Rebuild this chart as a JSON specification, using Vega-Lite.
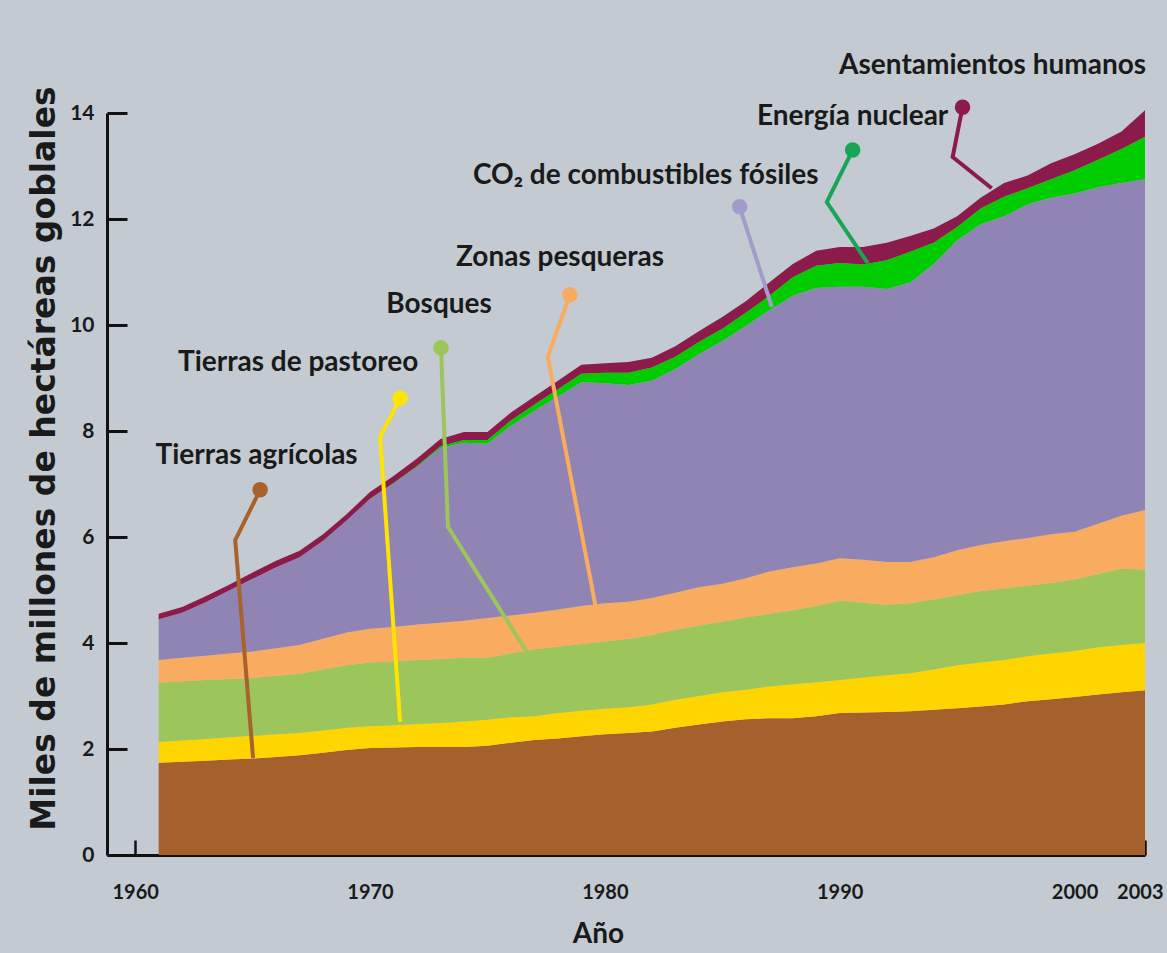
{
  "$schema": "https://vega.github.io/schema/vega-lite/v6.json",
  "width": 1038,
  "height": 742,
  "autosize": "none",
  "padding": {"left": 107, "top": 113, "right": 22, "bottom": 98},
  "background": "#c3cad2",
  "config": {"view": {"stroke": null}},
  "datasets": {
    "huella": [
      {"anio":1961,"a_agricolas":1.74,"b_pastoreo":0.39,"c_bosques":1.12,"d_pesqueras":0.43,"e_co2":0.77,"f_nuclear":0.0,"g_asentamientos":0.10},
      {"anio":1962,"a_agricolas":1.76,"b_pastoreo":0.40,"c_bosques":1.12,"d_pesqueras":0.44,"e_co2":0.85,"f_nuclear":0.0,"g_asentamientos":0.11},
      {"anio":1963,"a_agricolas":1.78,"b_pastoreo":0.41,"c_bosques":1.11,"d_pesqueras":0.46,"e_co2":1.01,"f_nuclear":0.0,"g_asentamientos":0.11},
      {"anio":1964,"a_agricolas":1.80,"b_pastoreo":0.42,"c_bosques":1.10,"d_pesqueras":0.48,"e_co2":1.19,"f_nuclear":0.0,"g_asentamientos":0.11},
      {"anio":1965,"a_agricolas":1.82,"b_pastoreo":0.43,"c_bosques":1.09,"d_pesqueras":0.50,"e_co2":1.37,"f_nuclear":0.0,"g_asentamientos":0.12},
      {"anio":1966,"a_agricolas":1.85,"b_pastoreo":0.43,"c_bosques":1.10,"d_pesqueras":0.52,"e_co2":1.53,"f_nuclear":0.0,"g_asentamientos":0.12},
      {"anio":1967,"a_agricolas":1.88,"b_pastoreo":0.42,"c_bosques":1.12,"d_pesqueras":0.54,"e_co2":1.66,"f_nuclear":0.0,"g_asentamientos":0.12},
      {"anio":1968,"a_agricolas":1.93,"b_pastoreo":0.42,"c_bosques":1.15,"d_pesqueras":0.58,"e_co2":1.85,"f_nuclear":0.0,"g_asentamientos":0.12},
      {"anio":1969,"a_agricolas":1.98,"b_pastoreo":0.42,"c_bosques":1.18,"d_pesqueras":0.62,"e_co2":2.11,"f_nuclear":0.0,"g_asentamientos":0.12},
      {"anio":1970,"a_agricolas":2.02,"b_pastoreo":0.41,"c_bosques":1.20,"d_pesqueras":0.64,"e_co2":2.45,"f_nuclear":0.0,"g_asentamientos":0.13},
      {"anio":1971,"a_agricolas":2.03,"b_pastoreo":0.42,"c_bosques":1.20,"d_pesqueras":0.65,"e_co2":2.71,"f_nuclear":0.01,"g_asentamientos":0.13},
      {"anio":1972,"a_agricolas":2.04,"b_pastoreo":0.43,"c_bosques":1.21,"d_pesqueras":0.67,"e_co2":2.97,"f_nuclear":0.02,"g_asentamientos":0.14},
      {"anio":1973,"a_agricolas":2.04,"b_pastoreo":0.45,"c_bosques":1.21,"d_pesqueras":0.68,"e_co2":3.30,"f_nuclear":0.03,"g_asentamientos":0.14},
      {"anio":1974,"a_agricolas":2.04,"b_pastoreo":0.48,"c_bosques":1.20,"d_pesqueras":0.70,"e_co2":3.36,"f_nuclear":0.05,"g_asentamientos":0.15},
      {"anio":1975,"a_agricolas":2.06,"b_pastoreo":0.49,"c_bosques":1.17,"d_pesqueras":0.75,"e_co2":3.29,"f_nuclear":0.07,"g_asentamientos":0.15},
      {"anio":1976,"a_agricolas":2.12,"b_pastoreo":0.48,"c_bosques":1.20,"d_pesqueras":0.72,"e_co2":3.58,"f_nuclear":0.10,"g_asentamientos":0.15},
      {"anio":1977,"a_agricolas":2.17,"b_pastoreo":0.45,"c_bosques":1.26,"d_pesqueras":0.69,"e_co2":3.81,"f_nuclear":0.12,"g_asentamientos":0.15},
      {"anio":1978,"a_agricolas":2.20,"b_pastoreo":0.48,"c_bosques":1.25,"d_pesqueras":0.70,"e_co2":4.02,"f_nuclear":0.14,"g_asentamientos":0.16},
      {"anio":1979,"a_agricolas":2.24,"b_pastoreo":0.48,"c_bosques":1.26,"d_pesqueras":0.72,"e_co2":4.22,"f_nuclear":0.16,"g_asentamientos":0.17},
      {"anio":1980,"a_agricolas":2.28,"b_pastoreo":0.48,"c_bosques":1.27,"d_pesqueras":0.72,"e_co2":4.15,"f_nuclear":0.20,"g_asentamientos":0.18},
      {"anio":1981,"a_agricolas":2.30,"b_pastoreo":0.49,"c_bosques":1.29,"d_pesqueras":0.70,"e_co2":4.09,"f_nuclear":0.23,"g_asentamientos":0.20},
      {"anio":1982,"a_agricolas":2.33,"b_pastoreo":0.51,"c_bosques":1.31,"d_pesqueras":0.70,"e_co2":4.10,"f_nuclear":0.25,"g_asentamientos":0.18},
      {"anio":1983,"a_agricolas":2.40,"b_pastoreo":0.53,"c_bosques":1.32,"d_pesqueras":0.70,"e_co2":4.22,"f_nuclear":0.23,"g_asentamientos":0.20},
      {"anio":1984,"a_agricolas":2.46,"b_pastoreo":0.54,"c_bosques":1.33,"d_pesqueras":0.72,"e_co2":4.40,"f_nuclear":0.23,"g_asentamientos":0.20},
      {"anio":1985,"a_agricolas":2.52,"b_pastoreo":0.55,"c_bosques":1.33,"d_pesqueras":0.72,"e_co2":4.58,"f_nuclear":0.23,"g_asentamientos":0.22},
      {"anio":1986,"a_agricolas":2.56,"b_pastoreo":0.56,"c_bosques":1.36,"d_pesqueras":0.74,"e_co2":4.76,"f_nuclear":0.25,"g_asentamientos":0.22},
      {"anio":1987,"a_agricolas":2.58,"b_pastoreo":0.60,"c_bosques":1.37,"d_pesqueras":0.80,"e_co2":4.93,"f_nuclear":0.27,"g_asentamientos":0.25},
      {"anio":1988,"a_agricolas":2.58,"b_pastoreo":0.64,"c_bosques":1.40,"d_pesqueras":0.81,"e_co2":5.12,"f_nuclear":0.35,"g_asentamientos":0.25},
      {"anio":1989,"a_agricolas":2.62,"b_pastoreo":0.64,"c_bosques":1.44,"d_pesqueras":0.80,"e_co2":5.20,"f_nuclear":0.42,"g_asentamientos":0.28},
      {"anio":1990,"a_agricolas":2.68,"b_pastoreo":0.62,"c_bosques":1.50,"d_pesqueras":0.80,"e_co2":5.12,"f_nuclear":0.45,"g_asentamientos":0.30},
      {"anio":1991,"a_agricolas":2.69,"b_pastoreo":0.66,"c_bosques":1.41,"d_pesqueras":0.81,"e_co2":5.15,"f_nuclear":0.42,"g_asentamientos":0.33},
      {"anio":1992,"a_agricolas":2.70,"b_pastoreo":0.69,"c_bosques":1.33,"d_pesqueras":0.81,"e_co2":5.15,"f_nuclear":0.54,"g_asentamientos":0.33},
      {"anio":1993,"a_agricolas":2.71,"b_pastoreo":0.72,"c_bosques":1.32,"d_pesqueras":0.78,"e_co2":5.27,"f_nuclear":0.58,"g_asentamientos":0.30},
      {"anio":1994,"a_agricolas":2.74,"b_pastoreo":0.76,"c_bosques":1.32,"d_pesqueras":0.80,"e_co2":5.53,"f_nuclear":0.40,"g_asentamientos":0.27},
      {"anio":1995,"a_agricolas":2.77,"b_pastoreo":0.81,"c_bosques":1.32,"d_pesqueras":0.85,"e_co2":5.85,"f_nuclear":0.25,"g_asentamientos":0.20},
      {"anio":1996,"a_agricolas":2.80,"b_pastoreo":0.83,"c_bosques":1.35,"d_pesqueras":0.87,"e_co2":6.05,"f_nuclear":0.30,"g_asentamientos":0.20},
      {"anio":1997,"a_agricolas":2.84,"b_pastoreo":0.84,"c_bosques":1.35,"d_pesqueras":0.89,"e_co2":6.13,"f_nuclear":0.37,"g_asentamientos":0.26},
      {"anio":1998,"a_agricolas":2.90,"b_pastoreo":0.85,"c_bosques":1.33,"d_pesqueras":0.90,"e_co2":6.30,"f_nuclear":0.30,"g_asentamientos":0.24},
      {"anio":1999,"a_agricolas":2.94,"b_pastoreo":0.86,"c_bosques":1.33,"d_pesqueras":0.92,"e_co2":6.35,"f_nuclear":0.35,"g_asentamientos":0.30},
      {"anio":2000,"a_agricolas":2.98,"b_pastoreo":0.87,"c_bosques":1.35,"d_pesqueras":0.90,"e_co2":6.38,"f_nuclear":0.44,"g_asentamientos":0.30},
      {"anio":2001,"a_agricolas":3.03,"b_pastoreo":0.89,"c_bosques":1.38,"d_pesqueras":0.95,"e_co2":6.35,"f_nuclear":0.52,"g_asentamientos":0.30},
      {"anio":2002,"a_agricolas":3.07,"b_pastoreo":0.89,"c_bosques":1.44,"d_pesqueras":1.00,"e_co2":6.28,"f_nuclear":0.64,"g_asentamientos":0.33},
      {"anio":2003,"a_agricolas":3.11,"b_pastoreo":0.89,"c_bosques":1.38,"d_pesqueras":1.13,"e_co2":6.24,"f_nuclear":0.80,"g_asentamientos":0.50}
    ],
    "lineas": [
      {"serie":"a_agricolas","i":1,"anio":1965.32,"valor":6.89},
      {"serie":"a_agricolas","i":2,"anio":1964.26,"valor":5.94},
      {"serie":"a_agricolas","i":3,"anio":1965.02,"valor":1.83},
      {"serie":"b_pastoreo","i":1,"anio":1971.28,"valor":8.62},
      {"serie":"b_pastoreo","i":2,"anio":1970.43,"valor":7.89},
      {"serie":"b_pastoreo","i":3,"anio":1971.28,"valor":2.51},
      {"serie":"c_bosques","i":1,"anio":1973.02,"valor":9.57},
      {"serie":"c_bosques","i":2,"anio":1973.32,"valor":6.19},
      {"serie":"c_bosques","i":3,"anio":1976.68,"valor":3.83},
      {"serie":"d_pesqueras","i":1,"anio":1978.51,"valor":10.57},
      {"serie":"d_pesqueras","i":2,"anio":1977.57,"valor":9.40},
      {"serie":"d_pesqueras","i":3,"anio":1979.62,"valor":4.66},
      {"serie":"e_co2","i":1,"anio":1985.74,"valor":12.23},
      {"serie":"e_co2","i":2,"anio":1987.11,"valor":10.34},
      {"serie":"f_nuclear","i":1,"anio":1990.55,"valor":13.30},
      {"serie":"f_nuclear","i":2,"anio":1989.45,"valor":12.32},
      {"serie":"f_nuclear","i":3,"anio":1991.19,"valor":11.17},
      {"serie":"g_asentamientos","i":1,"anio":1995.23,"valor":14.11},
      {"serie":"g_asentamientos","i":2,"anio":1994.81,"valor":13.17},
      {"serie":"g_asentamientos","i":3,"anio":1996.47,"valor":12.58}
    ],
    "etiquetas": [
      {"texto":"Tierras agrícolas","anio":1965.17,"valor":7.38},
      {"texto":"Tierras de pastoreo","anio":1966.94,"valor":9.13},
      {"texto":"Bosques","anio":1972.94,"valor":10.23},
      {"texto":"Zonas pesqueras","anio":1978.09,"valor":11.11},
      {"texto":"CO₂ de combustibles fósiles","anio":1981.74,"valor":12.66},
      {"texto":"Energía nuclear","anio":1990.55,"valor":13.77},
      {"texto":"Asentamientos humanos","anio":1996.51,"valor":14.74}
    ]
  },
  "encoding": {
    "x": {
      "field": "anio", "type": "quantitative",
      "scale": {"domain": [1958.8, 2003], "nice": false, "zero": false},
      "axis": {
        "title": "Año", "values": [1960, 1970, 1980, 1990, 2000, 2003], "format": "d",
        "grid": false, "domainColor": "#111111", "domainWidth": 3,
        "tickColor": "#111111", "tickWidth": 2.5, "tickSize": -15,
        "labelFont": "Lato", "labelFontSize": 20, "labelFontWeight": "bold",
        "labelColor": "#1a1a1a", "labelPadding": 42, "labelFlush": 4, "labelFlushOffset": 18, "labelOverlap": false,
        "titleFont": "Lato", "titleFontSize": 28, "titleFontWeight": "bold",
        "titleColor": "#1a1a1a", "titlePadding": 18, "titleX": 491
      }
    },
    "y": {
      "field": "valor", "type": "quantitative",
      "scale": {"domain": [0, 14], "nice": false},
      "axis": {
        "title": "Miles de millones de hectáreas goblales", "values": [0, 2, 4, 6, 8, 10, 12, 14],
        "grid": false, "domainColor": "#111111", "domainWidth": 3,
        "tickColor": "#111111", "tickWidth": 3, "tickSize": -20,
        "labelFont": "Lato", "labelFontSize": 21, "labelFontWeight": "bold",
        "labelColor": "#1a1a1a", "labelPadding": 33,
        "titleFont": "DejaVu Sans", "titleFontSize": 33, "titleFontWeight": "bold",
        "titleColor": "#1a1a1a", "titlePadding": 8, "titleY": 345
      }
    }
  },
  "layer": [
    {
      "data": {"name": "huella"},
      "transform": [
        {"fold": ["a_agricolas", "b_pastoreo", "c_bosques", "d_pesqueras", "e_co2", "f_nuclear", "g_asentamientos"], "as": ["capa", "valor"]}
      ],
      "mark": {"type": "area"},
      "encoding": {
        "order": {"field": "capa", "type": "ordinal", "sort": "ascending"},
        "color": {
          "field": "capa", "type": "nominal", "legend": null,
          "scale": {
            "domain": ["a_agricolas", "b_pastoreo", "c_bosques", "d_pesqueras", "e_co2", "f_nuclear", "g_asentamientos"],
            "range": ["#a5602b", "#ffd500", "#9cc65c", "#f9ab5f", "#8f84b3", "#00cc00", "#8b1c4a"]
          }
        }
      }
    },
    {
      "data": {"name": "lineas"},
      "mark": {"type": "line", "strokeWidth": 4},
      "encoding": {
        "order": {"field": "i", "type": "quantitative"},
        "color": {
          "field": "serie", "type": "nominal", "legend": null,
          "scale": {
            "domain": ["a_agricolas", "b_pastoreo", "c_bosques", "d_pesqueras", "e_co2", "f_nuclear", "g_asentamientos"],
            "range": ["#a8622c", "#ffe400", "#9cc65c", "#f9ab5f", "#a29cc8", "#1aa556", "#8b1c4a"]
          }
        }
      }
    },
    {
      "data": {"name": "lineas"},
      "transform": [{"filter": "datum.i == 1"}],
      "mark": {"type": "circle", "size": 240, "opacity": 1},
      "encoding": {
        "color": {
          "field": "serie", "type": "nominal", "legend": null,
          "scale": {
            "domain": ["a_agricolas", "b_pastoreo", "c_bosques", "d_pesqueras", "e_co2", "f_nuclear", "g_asentamientos"],
            "range": ["#a8622c", "#ffe400", "#9cc65c", "#f9ab5f", "#a29cc8", "#1aa556", "#8b1c4a"]
          }
        }
      }
    },
    {
      "data": {"name": "etiquetas"},
      "mark": {"type": "text", "font": "Lato", "fontWeight": "bold", "fontSize": 28, "align": "center", "baseline": "alphabetic", "color": "#1a1a1a"},
      "encoding": {
        "text": {"field": "texto", "type": "nominal"}
      }
    }
  ],
  "resolve": {"scale": {"color": "independent"}}
}
